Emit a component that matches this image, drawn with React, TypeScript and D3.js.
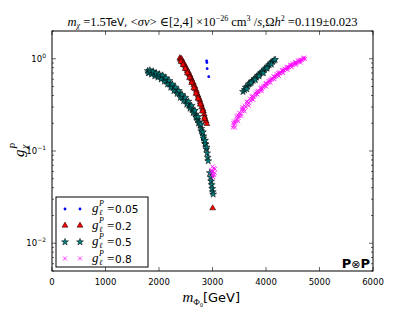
import React from 'react';
import * as d3 from 'd3';

// g_l^P = 0.05
const blueSeries: [number, number][] = [
  [2890, 0.95], [2895, 0.91], [2900, 0.78], [2930, 0.64],
];

// g_l^P = 0.2
const redSeries: [number, number][] = [
  [2390, 1.02], [2400, 0.98], [2420, 1.0], [2430, 0.95], [2440, 0.92], [2460, 0.9],
  [2470, 0.86], [2490, 0.84], [2500, 0.8], [2520, 0.77], [2530, 0.74], [2550, 0.72],
  [2560, 0.68], [2580, 0.66], [2590, 0.63], [2610, 0.6], [2620, 0.57], [2640, 0.55],
  [2650, 0.52], [2670, 0.5], [2680, 0.47], [2700, 0.45], [2710, 0.42], [2730, 0.4],
  [2740, 0.38], [2760, 0.36], [2770, 0.34], [2790, 0.32], [2800, 0.3], [2820, 0.285],
  [2830, 0.27], [2845, 0.25], [2855, 0.235], [2865, 0.22], [2880, 0.21], [2895, 0.197],
  [2410, 0.93], [2450, 0.86], [2490, 0.78], [2530, 0.7], [2570, 0.62], [2610, 0.55],
  [2650, 0.48], [2690, 0.42], [2730, 0.37], [2770, 0.32], [2810, 0.27], [2850, 0.225],
  [3003, 0.024],
];

// g_l^P = 0.5
const tealSeries: [number, number][] = [
  [1790, 0.74], [1820, 0.71], [1850, 0.72], [1880, 0.69], [1900, 0.71], [1930, 0.68],
  [1960, 0.66], [1990, 0.67], [2020, 0.64], [2050, 0.62], [2080, 0.63], [2110, 0.6],
  [2140, 0.57], [2170, 0.56], [2200, 0.53], [2230, 0.51], [2260, 0.49], [2290, 0.47],
  [2320, 0.45], [2350, 0.44], [2380, 0.42], [2410, 0.4], [2440, 0.38], [2470, 0.37],
  [2500, 0.35], [2530, 0.33], [2560, 0.31], [2590, 0.3], [2620, 0.28], [2650, 0.27],
  [2680, 0.25], [2700, 0.23], [2720, 0.22], [2750, 0.205], [2770, 0.19], [2790, 0.175],
  [2810, 0.16], [2830, 0.145], [2850, 0.13], [2870, 0.118], [2885, 0.105], [2900, 0.095],
  [2910, 0.085], [2920, 0.078],
  [1800, 0.7], [1860, 0.68], [1920, 0.65], [1980, 0.63], [2040, 0.6], [2100, 0.57],
  [2160, 0.53], [2220, 0.49], [2280, 0.45], [2340, 0.42], [2400, 0.38], [2460, 0.35],
  [2520, 0.32], [2580, 0.29], [2640, 0.26], [2690, 0.235], [2740, 0.2], [2790, 0.165],
  [2830, 0.138], [2860, 0.12],
  [1830, 0.75], [1890, 0.73], [1950, 0.7], [2010, 0.68], [2070, 0.66], [2130, 0.62],
  [2190, 0.58], [2250, 0.53], [2310, 0.49], [2370, 0.45], [2430, 0.41], [2490, 0.38],
  [2550, 0.345], [2610, 0.31], [2670, 0.275], [2730, 0.235], [2780, 0.195], [2820, 0.16],
  [2860, 0.13], [2890, 0.11],
  [2950, 0.058], [2965, 0.052], [2975, 0.047], [2985, 0.043], [2995, 0.039], [3005, 0.036],
  [3012, 0.034],
  [3570, 0.44], [3600, 0.46], [3620, 0.49], [3650, 0.5], [3680, 0.53], [3700, 0.54],
  [3730, 0.57], [3760, 0.58], [3790, 0.61], [3820, 0.63], [3850, 0.66], [3880, 0.68],
  [3910, 0.71], [3940, 0.73], [3970, 0.77], [4000, 0.79], [4030, 0.83], [4060, 0.86],
  [4090, 0.9], [4120, 0.93], [4150, 0.96], [4170, 0.98], [3640, 0.47], [3720, 0.55],
  [3800, 0.59], [3870, 0.65], [3950, 0.7], [4020, 0.79], [4100, 0.87],
];

// g_l^P = 0.8
const magentaSeries: [number, number][] = [
  [3380, 0.18], [3400, 0.19], [3420, 0.2], [3440, 0.21], [3460, 0.22], [3480, 0.23],
  [3500, 0.24], [3530, 0.255], [3560, 0.27], [3590, 0.285], [3620, 0.3], [3650, 0.32],
  [3680, 0.33], [3710, 0.35], [3740, 0.365], [3770, 0.385], [3800, 0.4], [3830, 0.415],
  [3860, 0.435], [3890, 0.45], [3920, 0.47], [3950, 0.49], [3980, 0.51], [4010, 0.53],
  [4040, 0.55], [4070, 0.57], [4100, 0.59], [4130, 0.61], [4160, 0.63], [4190, 0.65],
  [4220, 0.67], [4250, 0.69], [4280, 0.71], [4310, 0.73], [4340, 0.75], [4370, 0.77],
  [4400, 0.79], [4430, 0.81], [4460, 0.83], [4490, 0.85], [4520, 0.87], [4550, 0.89],
  [4580, 0.91], [4610, 0.93], [4640, 0.95], [4670, 0.97], [4700, 0.99], [4730, 1.0],
  [3400, 0.21], [3450, 0.235], [3500, 0.26], [3550, 0.285], [3600, 0.31], [3650, 0.34],
  [3700, 0.37], [3750, 0.395], [3800, 0.42], [3850, 0.45], [3900, 0.48], [3950, 0.51],
  [4000, 0.545], [4050, 0.57], [4100, 0.61], [4150, 0.64], [4200, 0.68], [4250, 0.71],
  [4300, 0.75], [4350, 0.78], [4400, 0.82], [4450, 0.86], [4500, 0.89], [4550, 0.92],
  [4600, 0.96], [4650, 0.98], [4700, 1.02],
  [3420, 0.18], [3480, 0.21], [3540, 0.24], [3600, 0.27], [3680, 0.31], [3760, 0.36],
  [3840, 0.41], [3920, 0.45], [4000, 0.5], [4080, 0.55], [4160, 0.6], [4240, 0.65],
  [4320, 0.7], [4400, 0.76], [4480, 0.81], [4560, 0.86], [4640, 0.91],
  [3390, 0.2], [3470, 0.245], [3560, 0.3], [3640, 0.345], [3730, 0.39], [3820, 0.44],
  [3910, 0.49], [3990, 0.535], [4070, 0.59], [4150, 0.645], [4230, 0.7], [4310, 0.755],
  [4390, 0.81], [4470, 0.86], [4550, 0.91], [4630, 0.96], [4710, 1.03],
  [2980, 0.062], [2995, 0.055], [3010, 0.06], [3025, 0.065], [3040, 0.058], [3000, 0.068],
  [3015, 0.052], [2990, 0.06], [3030, 0.055], [3045, 0.064],
];

const legendValues = ['0.05', '0.2', '0.5', '0.8'];
const xTicks = [0, 1000, 2000, 3000, 4000, 5000, 6000];
const yMajor = [-2, -1, 0];

const W = 415;
const H = 312;
const L = 52, R = 373, T = 31, B = 271;

const x = d3.scaleLinear().domain([0, 6000]).range([L, R]);
const y = d3.scaleLog().domain([0.005, 2]).range([B, T]);

const sans = 'DejaVu Sans, sans-serif';
const serif = 'Liberation Serif, DejaVu Serif, serif';

const triPath = d3.symbol().type(d3.symbolTriangle).size(15)() as string;
const starPath = d3.symbol().type(d3.symbolStar).size(15)() as string;
const crossPath = 'M-2,-2L2,2M-2,2L2,-2';

type Kind = 'dot' | 'tri' | 'star' | 'x';
const kinds: Kind[] = ['dot', 'tri', 'star', 'x'];

function Marker({ kind, cx, cy }: { kind: Kind; cx: number; cy: number }) {
  const t = `translate(${cx},${cy})`;
  if (kind === 'dot') return <circle cx={cx} cy={cy} r={1.4} fill="#0000ff" />;
  if (kind === 'tri') return <path d={triPath} transform={t} fill="#ff0000" stroke="#000" strokeWidth={0.5} />;
  if (kind === 'star') return <path d={starPath} transform={t} fill="#008080" stroke="#000" strokeWidth={0.5} />;
  return <path d={crossPath} transform={t} fill="none" stroke="#ff00ff" strokeWidth={0.8} />;
}

export default function App() {
  const series = [blueSeries, redSeries, tealSeries, magentaSeries];
  const minor: number[] = [];
  for (let e = -3; e <= 0; e++) {
    for (let k = 2; k <= 9; k++) {
      const v = k * Math.pow(10, e);
      if (v >= 0.005 && v <= 2) minor.push(v);
    }
  }

  return (
    <svg width={W} height={H} style={{ position: 'absolute', left: 0, top: 0, background: '#fff' }}>
      <rect x={0} y={0} width={W} height={H} fill="#fff" />
      <defs>
        <clipPath id="plotclip">
          <rect x={L} y={T} width={R - L} height={B - T} />
        </clipPath>
      </defs>

      {/* data */}
      <g clipPath="url(#plotclip)">
        {series.map((s, i) => (
          <g key={i}>
            {s.map((d, j) => (
              <Marker key={j} kind={kinds[i]} cx={x(d[0])} cy={y(d[1])} />
            ))}
          </g>
        ))}
      </g>

      {/* ticks */}
      <g stroke="#000" strokeWidth={0.6}>
        {xTicks.map(t => (
          <g key={t}>
            <line x1={x(t)} x2={x(t)} y1={B} y2={B - 4} />
            <line x1={x(t)} x2={x(t)} y1={T} y2={T + 4} />
          </g>
        ))}
        {yMajor.map(e => (
          <g key={e}>
            <line x1={L} x2={L + 4} y1={y(Math.pow(10, e))} y2={y(Math.pow(10, e))} />
            <line x1={R} x2={R - 4} y1={y(Math.pow(10, e))} y2={y(Math.pow(10, e))} />
          </g>
        ))}
        {minor.map(v => (
          <g key={v}>
            <line x1={L} x2={L + 2} y1={y(v)} y2={y(v)} />
            <line x1={R} x2={R - 2} y1={y(v)} y2={y(v)} />
          </g>
        ))}
      </g>
      <rect x={L} y={T} width={R - L} height={B - T} fill="none" stroke="#000" strokeWidth={1} />

      {/* tick labels */}
      {xTicks.map(t => (
        <text key={t} x={x(t)} y={B + 14} textAnchor="middle" fontFamily={sans} fontSize={8.5}>{t}</text>
      ))}
      {yMajor.map(e => (
        <text key={e} x={L - 6} y={y(Math.pow(10, e)) + 3} textAnchor="end" fontFamily={sans} fontSize={8.5}>
          10<tspan fontSize={6} dy={-4}>{e === 0 ? '0' : '\u2212' + -e}</tspan>
        </text>
      ))}

      {/* title */}
      <text x={(L + R) / 2} y={26} textAnchor="middle" fontFamily={serif} fontSize={12.5}>
        <tspan fontStyle="italic">m</tspan>
        <tspan fontStyle="italic" fontSize={8} dy={2}>χ</tspan>
        <tspan dy={-2}> =1.5</tspan>
        <tspan fontFamily={sans} fontSize={10.5}>TeV, </tspan>
        <tspan>&lt;</tspan>
        <tspan fontStyle="italic">σv</tspan>
        <tspan>&gt; ∈[2,4] ×10</tspan>
        <tspan fontSize={8} dy={-5}>−26</tspan>
        <tspan dy={5}> cm</tspan>
        <tspan fontSize={8} dy={-5}>3</tspan>
        <tspan dy={5}> /</tspan>
        <tspan fontStyle="italic">s</tspan>
        <tspan>,Ω</tspan>
        <tspan fontStyle="italic">h</tspan>
        <tspan fontSize={8} dy={-5}>2</tspan>
        <tspan dy={5}> =0.119±0.023</tspan>
      </text>

      {/* y label */}
      <g transform={`translate(24,${(T + B) / 2}) rotate(-90)`}>
        <text x={-6} y={0} fontFamily={serif} fontSize={15} fontStyle="italic">g</text>
        <text x={2} y={-7} fontFamily={serif} fontSize={10} fontStyle="italic">P</text>
        <text x={2} y={4} fontFamily={serif} fontSize={10} fontStyle="italic">χ</text>
      </g>

      {/* x label */}
      <text x={(L + R) / 2 - 30} y={302} fontFamily={serif} fontSize={15}>
        <tspan fontStyle="italic">m</tspan>
        <tspan fontSize={9} dy={3}>Φ</tspan>
        <tspan fontSize={6} dy={2}>0</tspan>
        <tspan fontFamily={sans} fontSize={13} dy={-5}>[GeV]</tspan>
      </text>

      {/* P x P */}
      <text x={R - 3} y={268} textAnchor="end" fontFamily={sans} fontSize={13}>
        <tspan fontWeight="bold">P</tspan>
        <tspan fontSize={11}>⊗</tspan>
        <tspan fontWeight="bold">P</tspan>
      </text>

      {/* legend */}
      <g>
        <rect x={56} y={197} width={92} height={70} fill="#fff" stroke="#000" strokeWidth={1} />
        {legendValues.map((v, i) => {
          const ry = 209 + i * 16.5;
          return (
            <g key={v}>
              <Marker kind={kinds[i]} cx={65} cy={ry} />
              <Marker kind={kinds[i]} cx={80} cy={ry} />
              <text x={92} y={ry + 3} fontFamily={serif} fontSize={13} fontStyle="italic">g</text>
              <text x={99} y={ry - 3} fontFamily={serif} fontSize={8} fontStyle="italic">P</text>
              <text x={99} y={ry + 6} fontFamily={serif} fontSize={8} fontStyle="italic">ℓ</text>
              <text x={107} y={ry + 4} fontFamily={serif} fontSize={13}>=</text>
              <text x={115} y={ry + 4} fontFamily={sans} fontSize={10.5}>{v}</text>
            </g>
          );
        })}
      </g>
    </svg>
  );
}
